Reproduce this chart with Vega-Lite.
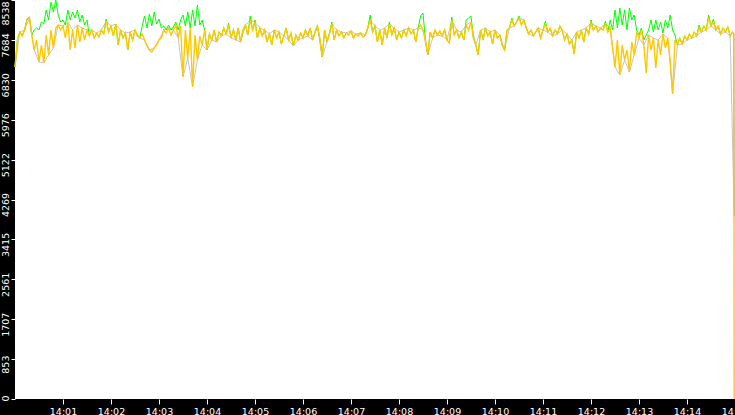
{
  "$schema": "https://vega.github.io/schema/vega-lite/v6.json",
  "width": 720,
  "height": 399,
  "autosize": {"type": "none"},
  "padding": {"left": 15, "top": 0, "right": 0, "bottom": 16},
  "background": "#000000",
  "config": {
    "view": {"fill": "#ffffff", "stroke": null},
    "axis": {
      "domain": false,
      "grid": false,
      "title": null,
      "tickColor": "#ffffff",
      "tickWidth": 1,
      "labelColor": "#ffffff",
      "labelFont": "DejaVu Sans",
      "labelFontSize": 9.5,
      "labelFlush": false,
      "labelOverlap": false
    }
  },
  "datasets": {
    "yellow": [
      {"t":0,"v":7104},{"t":3,"v":7682},{"t":6,"v":7853},{"t":9,"v":7768},{"t":12,"v":7896},{"t":15,"v":8110},{"t":18,"v":8153},{"t":21,"v":7789},{"t":24,"v":7468},{"t":27,"v":7682},
      {"t":30,"v":7211},{"t":33,"v":7575},{"t":36,"v":7190},{"t":39,"v":7789},{"t":42,"v":7361},{"t":45,"v":7896},{"t":48,"v":7511},{"t":51,"v":7939},{"t":54,"v":8003},{"t":57,"v":7896},
      {"t":60,"v":7982},{"t":63,"v":7725},{"t":66,"v":8067},{"t":69,"v":7468},{"t":72,"v":7896},{"t":75,"v":7511},{"t":78,"v":8003},{"t":81,"v":7639},{"t":84,"v":7939},{"t":87,"v":7682},
      {"t":90,"v":7896},{"t":93,"v":7768},{"t":96,"v":7896},{"t":99,"v":7725},{"t":102,"v":7832},{"t":105,"v":7746},{"t":108,"v":7896},{"t":111,"v":7810},{"t":114,"v":8089},{"t":117,"v":7853},
      {"t":120,"v":7982},{"t":123,"v":7768},{"t":126,"v":8024},{"t":129,"v":7575},{"t":132,"v":7896},{"t":135,"v":7725},{"t":138,"v":7832},{"t":141,"v":7468},{"t":144,"v":7853},{"t":147,"v":7682},
      {"t":150,"v":7896},{"t":153,"v":7768},{"t":156,"v":7725},{"t":159,"v":7810},{"t":162,"v":7682},{"t":165,"v":7554},{"t":168,"v":7468},{"t":171,"v":7425},{"t":174,"v":7511},{"t":177,"v":7575},
      {"t":180,"v":7682},{"t":183,"v":7725},{"t":186,"v":7896},{"t":189,"v":7832},{"t":192,"v":7939},{"t":195,"v":7789},{"t":198,"v":7896},{"t":201,"v":8003},{"t":204,"v":7725},{"t":207,"v":7982},
      {"t":210,"v":6890},{"t":213,"v":7896},{"t":216,"v":7297},{"t":219,"v":7939},{"t":222,"v":6676},{"t":225,"v":7789},{"t":228,"v":7254},{"t":231,"v":7768},{"t":234,"v":7575},{"t":237,"v":7896},
      {"t":240,"v":7468},{"t":243,"v":7810},{"t":246,"v":7682},{"t":249,"v":7896},{"t":252,"v":7639},{"t":255,"v":7853},{"t":258,"v":7768},{"t":261,"v":7939},{"t":264,"v":7810},{"t":267,"v":8003},
      {"t":270,"v":7725},{"t":273,"v":7896},{"t":276,"v":7682},{"t":279,"v":7939},{"t":282,"v":7639},{"t":285,"v":7896},{"t":288,"v":8003},{"t":291,"v":7789},{"t":294,"v":8110},{"t":297,"v":7896},
      {"t":300,"v":8067},{"t":303,"v":7725},{"t":306,"v":7939},{"t":309,"v":7768},{"t":312,"v":7896},{"t":315,"v":7639},{"t":318,"v":7810},{"t":321,"v":7575},{"t":324,"v":7896},{"t":327,"v":7725},
      {"t":330,"v":7853},{"t":333,"v":7596},{"t":336,"v":7768},{"t":339,"v":7939},{"t":342,"v":7682},{"t":345,"v":7832},{"t":348,"v":7554},{"t":351,"v":7789},{"t":354,"v":7682},{"t":357,"v":7832},
      {"t":360,"v":7725},{"t":363,"v":7896},{"t":366,"v":7768},{"t":369,"v":7939},{"t":372,"v":7682},{"t":375,"v":7853},{"t":378,"v":7982},{"t":381,"v":7725},{"t":384,"v":7318},{"t":387,"v":7896},
      {"t":390,"v":7639},{"t":393,"v":7810},{"t":396,"v":8024},{"t":399,"v":7682},{"t":402,"v":7896},{"t":405,"v":7768},{"t":408,"v":7853},{"t":411,"v":7725},{"t":414,"v":7832},{"t":417,"v":7789},
      {"t":420,"v":7875},{"t":423,"v":7725},{"t":426,"v":7810},{"t":429,"v":7768},{"t":432,"v":7832},{"t":435,"v":7746},{"t":438,"v":7789},{"t":441,"v":7939},{"t":444,"v":8110},{"t":447,"v":7853},
      {"t":450,"v":7982},{"t":453,"v":7639},{"t":456,"v":7896},{"t":459,"v":7575},{"t":462,"v":7939},{"t":465,"v":7725},{"t":468,"v":8024},{"t":471,"v":7789},{"t":474,"v":7939},{"t":477,"v":7682},
      {"t":480,"v":7853},{"t":483,"v":7725},{"t":486,"v":7896},{"t":489,"v":7768},{"t":492,"v":7939},{"t":495,"v":7810},{"t":498,"v":7896},{"t":501,"v":7639},{"t":504,"v":7939},{"t":507,"v":8003},
      {"t":510,"v":7896},{"t":513,"v":7682},{"t":516,"v":7361},{"t":519,"v":7853},{"t":522,"v":7725},{"t":525,"v":7896},{"t":528,"v":7789},{"t":531,"v":7875},{"t":534,"v":7768},{"t":537,"v":7896},
      {"t":540,"v":7682},{"t":543,"v":7618},{"t":546,"v":8110},{"t":549,"v":7789},{"t":552,"v":7896},{"t":555,"v":7725},{"t":558,"v":7853},{"t":561,"v":7682},{"t":564,"v":8003},{"t":567,"v":7896},
      {"t":570,"v":8067},{"t":573,"v":7725},{"t":576,"v":7575},{"t":579,"v":7361},{"t":582,"v":7896},{"t":585,"v":7682},{"t":588,"v":7939},{"t":591,"v":7768},{"t":594,"v":7853},{"t":597,"v":7596},
      {"t":600,"v":7896},{"t":603,"v":7725},{"t":606,"v":7789},{"t":609,"v":7575},{"t":612,"v":7468},{"t":615,"v":7896},{"t":618,"v":7939},{"t":621,"v":8110},{"t":624,"v":7982},{"t":627,"v":8067},
      {"t":630,"v":8153},{"t":633,"v":8003},{"t":636,"v":8110},{"t":639,"v":7939},{"t":642,"v":7810},{"t":645,"v":7896},{"t":648,"v":7768},{"t":651,"v":7853},{"t":654,"v":7939},{"t":657,"v":7725},
      {"t":660,"v":7896},{"t":663,"v":8024},{"t":666,"v":7853},{"t":669,"v":7939},{"t":672,"v":7768},{"t":675,"v":7896},{"t":678,"v":7810},{"t":681,"v":7982},{"t":684,"v":7896},{"t":687,"v":7682},
      {"t":690,"v":7810},{"t":693,"v":7596},{"t":696,"v":7682},{"t":699,"v":7382},{"t":702,"v":7853},{"t":705,"v":7725},{"t":708,"v":7896},{"t":711,"v":7639},{"t":714,"v":7939},{"t":717,"v":7810},
      {"t":720,"v":8046},{"t":723,"v":7896},{"t":726,"v":7982},{"t":729,"v":7853},{"t":732,"v":7939},{"t":735,"v":7896},{"t":738,"v":8024},{"t":741,"v":7853},{"t":744,"v":7939},{"t":747,"v":7511},
      {"t":750,"v":7104},{"t":753,"v":7682},{"t":756,"v":6933},{"t":759,"v":7575},{"t":762,"v":7254},{"t":765,"v":7468},{"t":768,"v":6997},{"t":771,"v":7639},{"t":774,"v":7361},{"t":777,"v":7853},
      {"t":780,"v":7725},{"t":783,"v":7896},{"t":786,"v":7575},{"t":789,"v":6976},{"t":792,"v":7789},{"t":795,"v":7468},{"t":798,"v":7725},{"t":801,"v":7083},{"t":804,"v":7682},{"t":807,"v":7361},
      {"t":810,"v":7810},{"t":813,"v":7511},{"t":816,"v":7725},{"t":819,"v":7254},{"t":822,"v":6526},{"t":825,"v":7682},{"t":828,"v":7575},{"t":831,"v":7725},{"t":834,"v":7596},{"t":837,"v":7768},
      {"t":840,"v":7682},{"t":843,"v":7810},{"t":846,"v":7725},{"t":849,"v":7853},{"t":852,"v":7768},{"t":855,"v":7939},{"t":858,"v":7853},{"t":861,"v":7982},{"t":864,"v":7896},{"t":867,"v":8153},
      {"t":870,"v":7982},{"t":873,"v":8067},{"t":876,"v":7896},{"t":879,"v":7982},{"t":882,"v":7810},{"t":885,"v":7939},{"t":888,"v":7853},{"t":891,"v":7960},{"t":894,"v":7768},{"t":897,"v":7853},
      {"t":898.5,"v":7810},{"t":899,"v":0}
    ],
    "green": [
      {"t":0,"v":7104},{"t":3,"v":7682},{"t":6,"v":7853},{"t":9,"v":7768},{"t":12,"v":7896},{"t":15,"v":8131},{"t":18,"v":8174},{"t":21,"v":7789},{"t":24,"v":7896},{"t":27,"v":7939},
      {"t":30,"v":7896},{"t":33,"v":8067},{"t":36,"v":8024},{"t":39,"v":8324},{"t":42,"v":8110},{"t":45,"v":8495},{"t":48,"v":8281},{"t":51,"v":8538},{"t":54,"v":8217},{"t":57,"v":8067},
      {"t":60,"v":8110},{"t":63,"v":8003},{"t":66,"v":8324},{"t":69,"v":8110},{"t":72,"v":8281},{"t":75,"v":8153},{"t":78,"v":8324},{"t":81,"v":8067},{"t":84,"v":8217},{"t":87,"v":8003},
      {"t":90,"v":8110},{"t":93,"v":7768},{"t":96,"v":7896},{"t":99,"v":7725},{"t":102,"v":7832},{"t":105,"v":7746},{"t":108,"v":7896},{"t":111,"v":7810},{"t":114,"v":8131},{"t":117,"v":7853},
      {"t":120,"v":7982},{"t":123,"v":7768},{"t":126,"v":8024},{"t":129,"v":7575},{"t":132,"v":7896},{"t":135,"v":7725},{"t":138,"v":7832},{"t":141,"v":7468},{"t":144,"v":7853},{"t":147,"v":7682},
      {"t":150,"v":7896},{"t":153,"v":7768},{"t":156,"v":7725},{"t":159,"v":7982},{"t":162,"v":8196},{"t":165,"v":7939},{"t":168,"v":8238},{"t":171,"v":7982},{"t":174,"v":8281},{"t":177,"v":8024},
      {"t":180,"v":8131},{"t":183,"v":7939},{"t":186,"v":7982},{"t":189,"v":7896},{"t":192,"v":8003},{"t":195,"v":7896},{"t":198,"v":7960},{"t":201,"v":8067},{"t":204,"v":7896},{"t":207,"v":8110},
      {"t":210,"v":8217},{"t":213,"v":7982},{"t":216,"v":8281},{"t":219,"v":7939},{"t":222,"v":8324},{"t":225,"v":7982},{"t":228,"v":8431},{"t":231,"v":8003},{"t":234,"v":8110},{"t":237,"v":7896},
      {"t":240,"v":7468},{"t":243,"v":7810},{"t":246,"v":7682},{"t":249,"v":7896},{"t":252,"v":7639},{"t":255,"v":7853},{"t":258,"v":7768},{"t":261,"v":7939},{"t":264,"v":7810},{"t":267,"v":8046},
      {"t":270,"v":7725},{"t":273,"v":7896},{"t":276,"v":7682},{"t":279,"v":7939},{"t":282,"v":7639},{"t":285,"v":7896},{"t":288,"v":8003},{"t":291,"v":7789},{"t":294,"v":8196},{"t":297,"v":7896},
      {"t":300,"v":8110},{"t":303,"v":7725},{"t":306,"v":7939},{"t":309,"v":7768},{"t":312,"v":7896},{"t":315,"v":7639},{"t":318,"v":7810},{"t":321,"v":7575},{"t":324,"v":7896},{"t":327,"v":7725},
      {"t":330,"v":7853},{"t":333,"v":7596},{"t":336,"v":7768},{"t":339,"v":7939},{"t":342,"v":7682},{"t":345,"v":7832},{"t":348,"v":7554},{"t":351,"v":7789},{"t":354,"v":7682},{"t":357,"v":7832},
      {"t":360,"v":7725},{"t":363,"v":7896},{"t":366,"v":7768},{"t":369,"v":7939},{"t":372,"v":7682},{"t":375,"v":7853},{"t":378,"v":7982},{"t":381,"v":7725},{"t":384,"v":7318},{"t":387,"v":7896},
      {"t":390,"v":7639},{"t":393,"v":7810},{"t":396,"v":8067},{"t":399,"v":7682},{"t":402,"v":7896},{"t":405,"v":7768},{"t":408,"v":7853},{"t":411,"v":7725},{"t":414,"v":7832},{"t":417,"v":7789},
      {"t":420,"v":7875},{"t":423,"v":7725},{"t":426,"v":7810},{"t":429,"v":7768},{"t":432,"v":7832},{"t":435,"v":7746},{"t":438,"v":7789},{"t":441,"v":7939},{"t":444,"v":8217},{"t":447,"v":7853},
      {"t":450,"v":7982},{"t":453,"v":7639},{"t":456,"v":7896},{"t":459,"v":7575},{"t":462,"v":7939},{"t":465,"v":7725},{"t":468,"v":8067},{"t":471,"v":7789},{"t":474,"v":7939},{"t":477,"v":7682},
      {"t":480,"v":7853},{"t":483,"v":7725},{"t":486,"v":7896},{"t":489,"v":7768},{"t":492,"v":7939},{"t":495,"v":7810},{"t":498,"v":7896},{"t":501,"v":7639},{"t":504,"v":7939},{"t":507,"v":8196},
      {"t":510,"v":8260},{"t":513,"v":7682},{"t":516,"v":7361},{"t":519,"v":7853},{"t":522,"v":7725},{"t":525,"v":7896},{"t":528,"v":7789},{"t":531,"v":7875},{"t":534,"v":7768},{"t":537,"v":7896},
      {"t":540,"v":7682},{"t":543,"v":7618},{"t":546,"v":8174},{"t":549,"v":7789},{"t":552,"v":7896},{"t":555,"v":7725},{"t":558,"v":7853},{"t":561,"v":7682},{"t":564,"v":8110},{"t":567,"v":8153},
      {"t":570,"v":8196},{"t":573,"v":7725},{"t":576,"v":7575},{"t":579,"v":7361},{"t":582,"v":7896},{"t":585,"v":7682},{"t":588,"v":7939},{"t":591,"v":7768},{"t":594,"v":7853},{"t":597,"v":7596},
      {"t":600,"v":7896},{"t":603,"v":7725},{"t":606,"v":7789},{"t":609,"v":7575},{"t":612,"v":7468},{"t":615,"v":7896},{"t":618,"v":7939},{"t":621,"v":8153},{"t":624,"v":7982},{"t":627,"v":8067},
      {"t":630,"v":8196},{"t":633,"v":8003},{"t":636,"v":8110},{"t":639,"v":7939},{"t":642,"v":7810},{"t":645,"v":7896},{"t":648,"v":7768},{"t":651,"v":7853},{"t":654,"v":7939},{"t":657,"v":7725},
      {"t":660,"v":7896},{"t":663,"v":8089},{"t":666,"v":7853},{"t":669,"v":7939},{"t":672,"v":7768},{"t":675,"v":7896},{"t":678,"v":7810},{"t":681,"v":7982},{"t":684,"v":7896},{"t":687,"v":7682},
      {"t":690,"v":7810},{"t":693,"v":7596},{"t":696,"v":7682},{"t":699,"v":7382},{"t":702,"v":7853},{"t":705,"v":7725},{"t":708,"v":7896},{"t":711,"v":7639},{"t":714,"v":7939},{"t":717,"v":7810},
      {"t":720,"v":8110},{"t":723,"v":7896},{"t":726,"v":7982},{"t":729,"v":7853},{"t":732,"v":7939},{"t":735,"v":7896},{"t":738,"v":8089},{"t":741,"v":7853},{"t":744,"v":8110},{"t":747,"v":7896},
      {"t":750,"v":8324},{"t":753,"v":7939},{"t":756,"v":8367},{"t":759,"v":8003},{"t":762,"v":8324},{"t":765,"v":7896},{"t":768,"v":8367},{"t":771,"v":8110},{"t":774,"v":8217},{"t":777,"v":7896},
      {"t":780,"v":7789},{"t":783,"v":7939},{"t":786,"v":7682},{"t":789,"v":7789},{"t":792,"v":7896},{"t":795,"v":8110},{"t":798,"v":7853},{"t":801,"v":8110},{"t":804,"v":7896},{"t":807,"v":8067},
      {"t":810,"v":7832},{"t":813,"v":8110},{"t":816,"v":7939},{"t":819,"v":8217},{"t":822,"v":7896},{"t":825,"v":7789},{"t":828,"v":7575},{"t":831,"v":7725},{"t":834,"v":7596},{"t":837,"v":7768},
      {"t":840,"v":7682},{"t":843,"v":7810},{"t":846,"v":7725},{"t":849,"v":7853},{"t":852,"v":7768},{"t":855,"v":8003},{"t":858,"v":7853},{"t":861,"v":7982},{"t":864,"v":7896},{"t":867,"v":8217},
      {"t":870,"v":7982},{"t":873,"v":8131},{"t":876,"v":7896},{"t":879,"v":7982},{"t":882,"v":7810},{"t":885,"v":7939},{"t":888,"v":7853},{"t":891,"v":7960},{"t":894,"v":7768},{"t":897,"v":7853},
      {"t":898.5,"v":7810},{"t":899,"v":3916}
    ],
    "gray": [
      {"t":0,"v":7104},{"t":6,"v":7853},{"t":12,"v":7896},{"t":18,"v":8153},{"t":24,"v":7468},{"t":30,"v":7211},{"t":36,"v":7190},{"t":42,"v":7361},{"t":48,"v":7511},{"t":54,"v":8003},
      {"t":60,"v":7982},{"t":66,"v":8067},{"t":72,"v":7896},{"t":78,"v":8003},{"t":84,"v":7939},{"t":90,"v":7896},{"t":96,"v":7896},{"t":102,"v":7832},{"t":108,"v":7896},{"t":114,"v":8089},
      {"t":120,"v":7982},{"t":126,"v":8024},{"t":132,"v":7896},{"t":138,"v":7832},{"t":144,"v":7853},{"t":150,"v":7896},{"t":156,"v":7725},{"t":162,"v":7682},{"t":168,"v":7468},{"t":174,"v":7511},
      {"t":180,"v":7682},{"t":186,"v":7896},{"t":192,"v":7939},{"t":198,"v":7896},{"t":204,"v":7725},{"t":210,"v":6890},{"t":216,"v":7297},{"t":222,"v":6676},{"t":228,"v":7254},{"t":234,"v":7575},
      {"t":240,"v":7468},{"t":246,"v":7682},{"t":252,"v":7639},{"t":258,"v":7768},{"t":264,"v":7810},{"t":270,"v":7725},{"t":276,"v":7682},{"t":282,"v":7639},{"t":288,"v":8003},{"t":294,"v":8110},
      {"t":300,"v":8067},{"t":306,"v":7939},{"t":312,"v":7896},{"t":318,"v":7810},{"t":324,"v":7896},{"t":330,"v":7853},{"t":336,"v":7768},{"t":342,"v":7682},{"t":348,"v":7554},{"t":354,"v":7682},
      {"t":360,"v":7725},{"t":366,"v":7768},{"t":372,"v":7682},{"t":378,"v":7982},{"t":384,"v":7318},{"t":390,"v":7639},{"t":396,"v":8024},{"t":402,"v":7896},{"t":408,"v":7853},{"t":414,"v":7832},
      {"t":420,"v":7875},{"t":426,"v":7810},{"t":432,"v":7832},{"t":438,"v":7789},{"t":444,"v":8110},{"t":450,"v":7982},{"t":456,"v":7896},{"t":462,"v":7939},{"t":468,"v":8024},{"t":474,"v":7939},
      {"t":480,"v":7853},{"t":486,"v":7896},{"t":492,"v":7939},{"t":498,"v":7896},{"t":504,"v":7939},{"t":510,"v":7896},{"t":516,"v":7361},{"t":522,"v":7725},{"t":528,"v":7789},{"t":534,"v":7768},
      {"t":540,"v":7682},{"t":546,"v":8110},{"t":552,"v":7896},{"t":558,"v":7853},{"t":564,"v":8003},{"t":570,"v":8067},{"t":576,"v":7575},{"t":582,"v":7896},{"t":588,"v":7939},{"t":594,"v":7853},
      {"t":600,"v":7896},{"t":606,"v":7789},{"t":612,"v":7468},{"t":618,"v":7939},{"t":624,"v":7982},{"t":630,"v":8153},{"t":636,"v":8110},{"t":642,"v":7810},{"t":648,"v":7768},{"t":654,"v":7939},
      {"t":660,"v":7896},{"t":666,"v":7853},{"t":672,"v":7768},{"t":678,"v":7810},{"t":684,"v":7896},{"t":690,"v":7810},{"t":696,"v":7682},{"t":702,"v":7853},{"t":708,"v":7896},{"t":714,"v":7939},
      {"t":720,"v":8046},{"t":726,"v":7982},{"t":732,"v":7939},{"t":738,"v":8024},{"t":744,"v":7939},{"t":750,"v":7104},{"t":756,"v":6933},{"t":762,"v":7254},{"t":768,"v":6997},{"t":774,"v":7361},
      {"t":780,"v":7725},{"t":786,"v":7575},{"t":792,"v":7789},{"t":798,"v":7725},{"t":804,"v":7682},{"t":810,"v":7810},{"t":816,"v":7725},{"t":822,"v":6526},{"t":828,"v":7575},{"t":834,"v":7596},
      {"t":840,"v":7682},{"t":846,"v":7725},{"t":852,"v":7768},{"t":858,"v":7853},{"t":864,"v":7896},{"t":870,"v":7982},{"t":876,"v":7896},{"t":882,"v":7810},{"t":888,"v":7853},{"t":894,"v":7768},
      {"t":899,"v":3916}
    ]
  },
  "encoding": {
    "x": {
      "field": "t",
      "type": "quantitative",
      "scale": {"domain": [0, 900], "nice": false, "zero": false},
      "axis": {
        "values": [60, 120, 180, 240, 300, 360, 420, 480, 540, 600, 660, 720, 780, 840, 900],
        "labelExpr": "'14:' + (datum.value < 600 ? '0' : '') + format(datum.value / 60, 'd')",
        "tickSize": 5,
        "labelPadding": 2,
        "labelBaseline": "top",
        "labelAlign": "center"
      }
    },
    "y": {
      "field": "v",
      "type": "quantitative",
      "scale": {"domain": [0, 8538], "nice": false},
      "axis": {
        "values": [0, 853, 1707, 2561, 3415, 4269, 5122, 5976, 6830, 7684, 8538],
        "format": "d",
        "labelAngle": -90,
        "labelAlign": "center",
        "labelBaseline": "alphabetic",
        "tickSize": 4,
        "labelPadding": 2.5,
        "labelOffset": {
          "condition": [
            {"test": "datum.value == 0", "value": -1},
            {"test": "datum.value == 8538", "value": 13}
          ],
          "value": 5
        }
      }
    }
  },
  "layer": [
    {"data": {"name": "gray"}, "mark": {"type": "line", "color": "#c4c4c4", "strokeWidth": 1}, "encoding": {}},
    {"data": {"name": "green"}, "mark": {"type": "line", "color": "#00ff00", "strokeWidth": 1}, "encoding": {}},
    {"data": {"name": "yellow"}, "mark": {"type": "line", "color": "#ffc800", "strokeWidth": 1.4}, "encoding": {}}
  ]
}
